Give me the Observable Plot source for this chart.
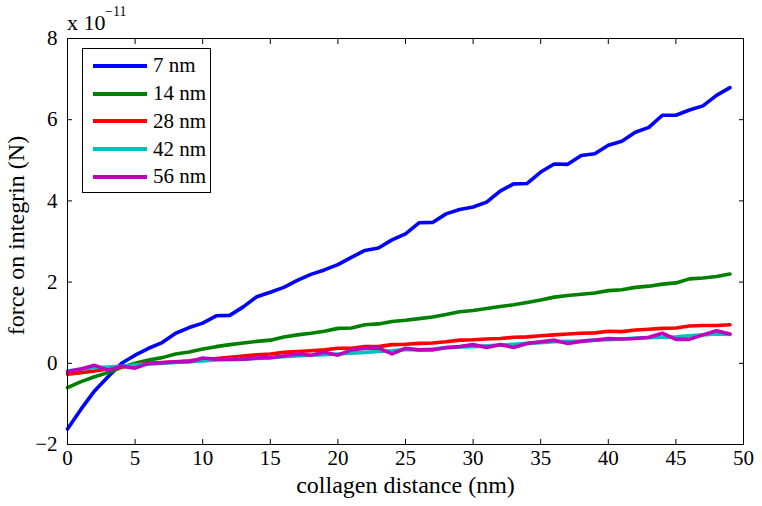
<!DOCTYPE html>
<html>
<head>
<meta charset="utf-8">
<script src="https://cdn.jsdelivr.net/npm/d3@7"></script>
<script src="https://cdn.jsdelivr.net/npm/@observablehq/plot@0.6"></script>
<style>
  body { margin: 0; background: #fff; }
  #wrap { position: relative; width: 762px; height: 506px; font-family: "Liberation Serif", "Times New Roman", serif; color: #000; }
  .exp { position: absolute; line-height: 1; white-space: nowrap; }
  #legend { position: absolute; left: 82px; top: 48px; width: 129px; height: 145px; border: 1px solid #000; background: #fff; padding-top: 3px; box-sizing: border-box; }
  .row { display: flex; align-items: center; height: 27.75px; }
  .sw { width: 54px; height: 4px; margin-left: 10px; margin-right: 6px; flex: none; }
  .lab { font-size: 21px; line-height: 1; }
</style>
</head>
<body>
<div id="wrap"></div>
<script>
// x positions (collagen distance, nm)
const distance = [0,1,2,3,4,5,6,7,8,9,10,11,12,13,14,15,16,17,18,19,20,21,22,23,24,25,26,27,28,29,30,31,32,33,34,35,36,37,38,39,40,41,42,43,44,45,46,47,48,49];

// force on integrin, in units of 1e-11 N
const force7 = [-1.62,-1.13,-0.68,-0.33,0.00,0.20,0.37,0.51,0.74,0.88,
                 0.99,1.17,1.18,1.39,1.64,1.75,1.87,2.04,2.19,2.30,
                 2.43,2.61,2.78,2.84,3.04,3.19,3.46,3.47,3.68,3.79,
                 3.85,3.97,4.24,4.42,4.43,4.71,4.91,4.90,5.12,5.16,
                 5.37,5.47,5.69,5.81,6.11,6.11,6.24,6.34,6.60,6.79];
const force14 = [-0.60,-0.45,-0.33,-0.23,-0.10,0.00,0.08,0.14,0.23,0.28,
                  0.35,0.41,0.46,0.50,0.54,0.57,0.65,0.70,0.74,0.79,
                  0.86,0.87,0.95,0.97,1.03,1.06,1.10,1.14,1.20,1.27,
                  1.30,1.35,1.40,1.44,1.50,1.56,1.63,1.67,1.70,1.73,
                  1.79,1.81,1.87,1.90,1.95,1.98,2.08,2.10,2.14,2.20];
const force28 = [-0.27,-0.23,-0.19,-0.14,-0.09,-0.04,0.00,0.02,0.04,0.06,
                  0.10,0.12,0.15,0.18,0.21,0.23,0.27,0.29,0.31,0.33,
                  0.37,0.37,0.41,0.41,0.46,0.47,0.49,0.50,0.53,0.57,
                  0.58,0.60,0.61,0.64,0.65,0.68,0.70,0.72,0.74,0.75,
                  0.79,0.78,0.82,0.84,0.86,0.87,0.92,0.93,0.93,0.95];
const force42 = [-0.19,-0.14,-0.11,-0.09,-0.07,-0.04,-0.02,0.00,0.02,0.04,
                  0.06,0.08,0.09,0.10,0.12,0.14,0.16,0.18,0.20,0.21,
                  0.23,0.25,0.27,0.29,0.31,0.34,0.33,0.35,0.38,0.40,
                  0.41,0.43,0.45,0.47,0.49,0.51,0.53,0.54,0.55,0.57,
                  0.58,0.60,0.62,0.63,0.64,0.65,0.68,0.70,0.72,0.71];
const force56 = [-0.20,-0.14,-0.05,-0.17,-0.07,-0.12,0.00,0.01,0.04,0.04,
                  0.13,0.10,0.10,0.10,0.13,0.14,0.18,0.23,0.20,0.27,
                  0.20,0.33,0.37,0.38,0.23,0.37,0.33,0.33,0.39,0.41,
                  0.46,0.39,0.46,0.39,0.49,0.53,0.57,0.49,0.54,0.57,
                  0.61,0.60,0.61,0.64,0.74,0.59,0.59,0.70,0.80,0.72];

const seriesNames = ["7 nm","14 nm","28 nm","42 nm","56 nm"];
const seriesColors = ["#0000ff","#008000","#ff0000","#00bfbf","#bf00bf"];
const xTicks = [0,5,10,15,20,25,30,35,40,45,50];
const yTicks = [-2,0,2,4,6,8];
const xTitle = "collagen distance (nm)";
const yTitle = "force on integrin (N)";

const allSeries = [force7, force14, force28, force42, force56];
const rows = [];
allSeries.forEach((vals, i) => {
  vals.forEach((v, j) => rows.push({x: distance[j], y: v, s: seriesNames[i]}));
});

const font = "Liberation Serif, Times New Roman, serif";

const chart = Plot.plot({
  width: 762,
  height: 506,
  marginLeft: 67,
  marginRight: 19,
  marginTop: 38,
  marginBottom: 62,
  style: {fontFamily: font, fontSize: "21px", background: "#fff", color: "#000"},
  x: {domain: [0, 50], ticks: xTicks},
  y: {domain: [-2, 8], ticks: yTicks},
  color: {domain: seriesNames, range: seriesColors},
  marks: [
    Plot.line(rows, {x: "x", y: "y", z: "s", stroke: "s", strokeWidth: 3.6, strokeLinejoin: "round"}),
    Plot.frame({stroke: "#000", strokeWidth: 1}),
    // inward ticks on all four sides
    Plot.axisX(xTicks, {anchor: "bottom", tickSize: -5, text: null, label: null}),
    Plot.axisX(xTicks, {anchor: "top", tickSize: -5, text: null, label: null}),
    Plot.axisY(yTicks, {anchor: "left", tickSize: -5, text: null, label: null}),
    Plot.axisY(yTicks, {anchor: "right", tickSize: -5, text: null, label: null}),
    // tick labels
    Plot.axisX(xTicks, {anchor: "bottom", tickSize: 0, tickPadding: 6, fontSize: 21, label: null}),
    Plot.axisY(yTicks, {anchor: "left", tickSize: 0, tickPadding: 10, fontSize: 21, label: null}),
    // axis titles
    Plot.text([xTitle], {frameAnchor: "bottom", textAnchor: "middle", lineAnchor: "bottom", dy: 48, fontSize: 24}),
    Plot.text([yTitle], {frameAnchor: "left", textAnchor: "middle", lineAnchor: "bottom", dx: -44, dy: -6, rotate: -90, fontSize: 24})
  ]
});

const wrap = document.getElementById("wrap");
wrap.appendChild(chart);

const expMain = document.createElement("span");
expMain.className = "exp";
expMain.style.cssText = "left:67px;top:12px;font-size:22px;";
expMain.textContent = "x 10";
wrap.appendChild(expMain);
const expSup = document.createElement("span");
expSup.className = "exp";
expSup.style.cssText = "left:105px;top:5px;font-size:14px;";
expSup.textContent = "\u221211";
wrap.appendChild(expSup);

const legend = document.createElement("div");
legend.id = "legend";
seriesNames.forEach((name, i) => {
  const r = document.createElement("div");
  r.className = "row";
  const sw = document.createElement("span");
  sw.className = "sw";
  sw.style.background = seriesColors[i];
  const lab = document.createElement("span");
  lab.className = "lab";
  lab.textContent = name;
  r.appendChild(sw);
  r.appendChild(lab);
  legend.appendChild(r);
});
wrap.appendChild(legend);
</script>
</body>
</html>
